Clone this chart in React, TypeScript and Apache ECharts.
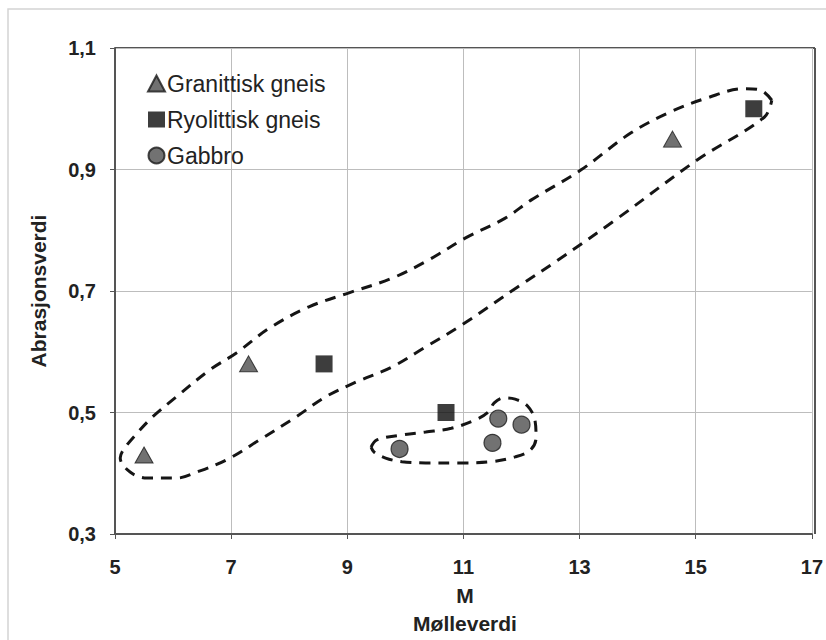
import React, { useEffect, useRef } from "react";
import * as echarts from "echarts";

const granittisk: [number, number][] = [
  [5.5, 0.43],
  [7.3, 0.58],
  [14.6, 0.95],
];
const ryolittisk: [number, number][] = [
  [8.6, 0.58],
  [10.7, 0.5],
  [16.0, 1.0],
];
const gabbro: [number, number][] = [
  [9.9, 0.44],
  [11.5, 0.45],
  [11.6, 0.49],
  [12.0, 0.48],
];

const bigEnvelope: [number, number][] = [
  [16.31, 1.014], [16.11, 1.031], [15.83, 1.033], [15.2, 1.018], [14.57, 0.995],
  [13.88, 0.96], [13.02, 0.899], [12.17, 0.85], [11.72, 0.82], [11.03, 0.787],
  [10.4, 0.751], [9.77, 0.721], [9.03, 0.697], [8.34, 0.674], [7.66, 0.639],
  [7.09, 0.598], [6.63, 0.57], [6.06, 0.526], [5.65, 0.493], [5.38, 0.466],
  [5.14, 0.438], [5.09, 0.425], [5.26, 0.402], [5.55, 0.392], [6.06, 0.392],
  [6.41, 0.402], [6.92, 0.422], [7.49, 0.455], [8.12, 0.493], [8.63, 0.526],
  [9.15, 0.55], [9.77, 0.575], [10.35, 0.608], [10.97, 0.644], [11.94, 0.707],
  [12.63, 0.751], [13.66, 0.82], [15.03, 0.916], [16.18, 0.986], [16.31, 1.014],
];

const smallEnvelope: [number, number][] = [
  [9.41, 0.443], [9.51, 0.455], [9.94, 0.463], [10.35, 0.468], [10.79, 0.474],
  [11.21, 0.488], [11.43, 0.501], [11.53, 0.516], [11.69, 0.524], [11.89, 0.522],
  [12.1, 0.511], [12.23, 0.488], [12.25, 0.458], [12.15, 0.438], [11.89, 0.427],
  [11.48, 0.419], [10.91, 0.417], [10.35, 0.417], [9.94, 0.419], [9.66, 0.425],
  [9.46, 0.435], [9.41, 0.443],
];

const xTitle = "M";
const xSubTitle = "Mølleverdi";
const yTitle = "Abrasjonsverdi";

export default function App() {
  const ref = useRef<HTMLDivElement>(null);
  useEffect(() => {
    if (!ref.current) return;
    const chart = echarts.init(ref.current, null, { renderer: "svg" });
    const font = "'Liberation Sans', Arial, sans-serif";
    const envStyle = {
      color: "#151515",
      width: 3,
      type: [11, 8] as number[],
    };
    chart.setOption({
      animation: false,
      backgroundColor: "#ffffff",
      textStyle: { fontFamily: font },
      grid: { left: 115, top: 48, width: 700, height: 486, show: false },
      legend: {
        data: [
          { name: "Granittisk gneis", icon: "triangle" },
          { name: "Ryolittisk gneis", icon: "rect" },
          { name: "Gabbro", icon: "circle" },
        ],
        orient: "vertical",
        left: 142,
        top: 67,
        itemWidth: 17,
        itemHeight: 16,
        itemGap: 13,
        textStyle: { fontSize: 23, color: "#222", fontFamily: font, padding: [0, 0, 0, -3] },
      },
      xAxis: {
        type: "value",
        min: 5,
        max: 17,
        interval: 2,
        axisLine: { show: true, onZero: false, lineStyle: { color: "#555", width: 2 } },
        axisTick: { show: true, inside: false, length: 5, lineStyle: { color: "#555" } },
        axisLabel: {
          margin: 23,
          fontSize: 20,
          fontWeight: "bold",
          color: "#222",
          fontFamily: font,
        },
        splitLine: { show: true, lineStyle: { color: "#bdbdbd", width: 1 } },
      },
      yAxis: {
        type: "value",
        min: 0.3,
        max: 1.1,
        interval: 0.2,
        name: yTitle,
        nameLocation: "middle",
        nameGap: 66,
        nameTextStyle: { fontSize: 21, fontWeight: "bold", color: "#222", fontFamily: font },
        axisLine: { show: true, onZero: false, lineStyle: { color: "#555", width: 2 } },
        axisTick: { show: true, inside: false, length: 5, lineStyle: { color: "#555" } },
        axisLabel: {
          margin: 19,
          fontSize: 20,
          fontWeight: "bold",
          color: "#222",
          fontFamily: font,
          formatter: (v: number) => v.toFixed(1).replace(".", ","),
        },
        splitLine: { show: true, lineStyle: { color: "#bdbdbd", width: 1 } },
      },
      graphic: [
        {
          type: "rect",
          shape: { x: 8, y: 9, width: 840, height: 660 },
          style: { fill: "none", stroke: "#d4d4d4", lineWidth: 1.5 },
          silent: true,
          z: -10,
        },
        {
          type: "line",
          shape: { x1: 115, y1: 48, x2: 815, y2: 48 },
          style: { stroke: "#555", lineWidth: 2 },
          silent: true,
        },
        {
          type: "line",
          shape: { x1: 815, y1: 48, x2: 815, y2: 534 },
          style: { stroke: "#555", lineWidth: 2 },
          silent: true,
        },
        {
          type: "text",
          x: 465,
          y: 595,
          style: {
            text: xTitle,
            fill: "#222",
            font: `bold 21px ${font}`,
            align: "center",
            verticalAlign: "middle",
          },
        },
        {
          type: "text",
          x: 465,
          y: 623,
          style: {
            text: xSubTitle,
            fill: "#222",
            font: `bold 21px ${font}`,
            align: "center",
            verticalAlign: "middle",
          },
        },
      ],
      series: [
        {
          name: "envelope1",
          type: "line",
          data: bigEnvelope,
          smooth: 0.35,
          symbol: "none",
          lineStyle: envStyle,
          silent: true,
          z: 1,
        },
        {
          name: "envelope2",
          type: "line",
          data: smallEnvelope,
          smooth: 0.35,
          symbol: "none",
          lineStyle: envStyle,
          silent: true,
          z: 1,
        },
        {
          name: "Granittisk gneis",
          type: "scatter",
          data: granittisk,
          symbol: "triangle",
          symbolSize: [18, 16],
          itemStyle: { color: "#4d4d4d", borderColor: "#1a1a1a", borderWidth: 1 },
          z: 3,
        },
        {
          name: "Ryolittisk gneis",
          type: "scatter",
          data: ryolittisk,
          symbol: "rect",
          symbolSize: 17,
          itemStyle: { color: "#0d0d0d" },
          z: 3,
        },
        {
          name: "Gabbro",
          type: "scatter",
          data: gabbro,
          symbol: "circle",
          symbolSize: 17,
          itemStyle: { color: "#4f4f4f", borderColor: "#1a1a1a", borderWidth: 1.2 },
          z: 3,
        },
      ],
    });
    return () => chart.dispose();
  }, []);
  return (
    <div
      ref={ref}
      style={{ position: "absolute", left: 0, top: 0, width: 826, height: 640 }}
    />
  );
}
